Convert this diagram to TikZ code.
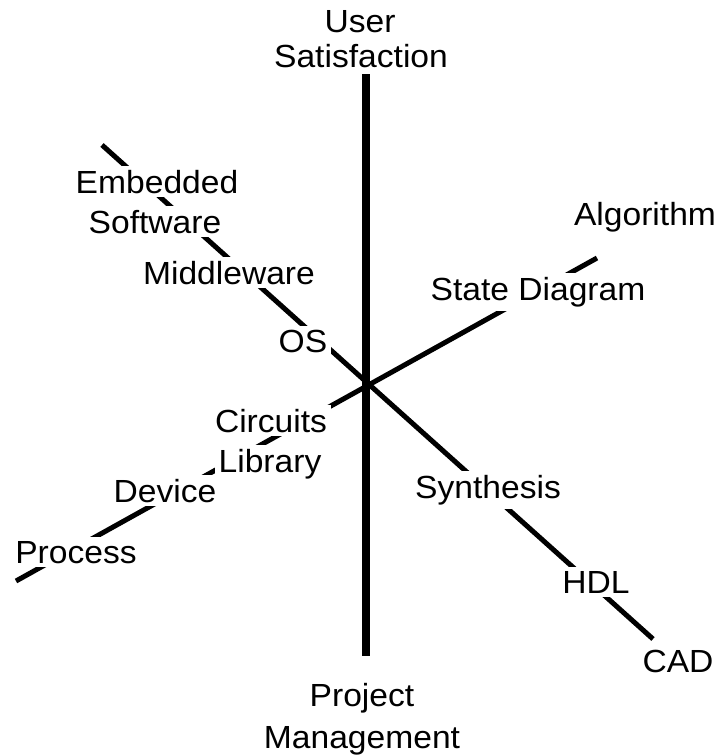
\documentclass[tikz,border=0pt]{standalone}
\usepackage{fontspec}
\setmainfont{Liberation Sans}[FakeStretch=1.05]
\begin{document}
\begin{tikzpicture}[x=1pt,y=-1pt,
  lbl/.style={fill=white, inner sep=4pt, anchor=base, font=\fontsize{32}{38}\selectfont},
  axisline/.style={line width=8pt},
  diagline/.style={line width=5pt}]
\useasboundingbox (0,0) rectangle (718,755);
\coordinate (vtop) at (366,74);
\coordinate (vbot) at (366,656);
\coordinate (nw) at (102,145);
\coordinate (se) at (653,639);
\coordinate (sw) at (16,581);
\coordinate (ne) at (597,258);
\draw[axisline] (vtop) -- (vbot);
\draw[diagline] (nw) -- (se);
\draw[diagline] (sw) -- (ne);
\node[lbl] (user) at (360,32) {User};
\node[lbl] (satisf) at (361,67) {Satisfaction};
\node[lbl] (embedded) at (157,193) {Embedded};
\node[lbl] (software) at (155,233) {Software};
\node[lbl] (middleware) at (229,284) {Middleware};
\node[lbl] (os) at (303,352) {OS};
\node[lbl] (circuits) at (271,432) {Circuits};
\node[lbl] (library) at (270,472) {Library};
\node[lbl] (device) at (165,502) {Device};
\node[lbl] (process) at (76,563) {Process};
\node[lbl] (state) at (538,300) {State Diagram};
\node[lbl] (algorithm) at (645,225) {Algorithm};
\node[lbl] (synthesis) at (488,498) {Synthesis};
\node[lbl] (hdl) at (596,593) {HDL};
\node[lbl] (cad) at (678,672) {CAD};
\node[lbl] (project) at (362,706) {Project};
\node[lbl] (management) at (362,748) {Management};
\end{tikzpicture}
\end{document}
